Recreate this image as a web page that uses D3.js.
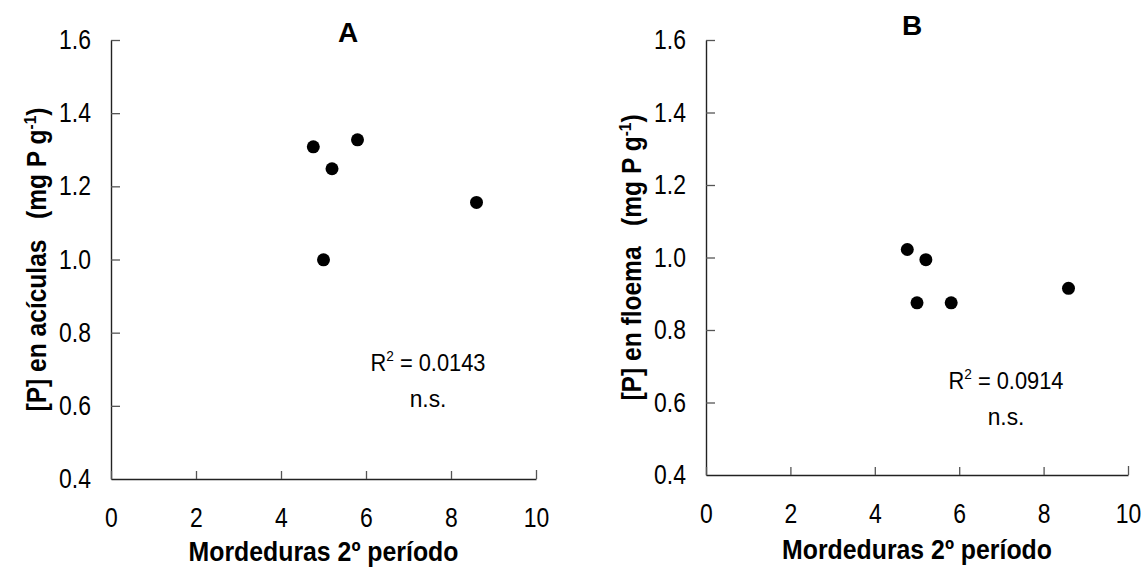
<!DOCTYPE html>
<html>
<head>
<meta charset="utf-8">
<script src="https://cdn.jsdelivr.net/npm/d3@7"></script>
<style>
  html, body { margin: 0; padding: 0; background: #fff; }
  svg { display: block; }
  text { font-family: "Liberation Sans Narrow", "Arial Narrow", "Liberation Sans", Arial, sans-serif; fill: #000; }
</style>
</head>
<body>
<svg id="chart" width="1144" height="570"></svg>
<script>
// ---- Data ----
const xTicks = [0, 2, 4, 6, 8, 10];
const yTicks = [0.4, 0.6, 0.8, 1.0, 1.2, 1.4, 1.6];

const mordedurasA = [4.76, 5.0, 5.2, 5.8, 8.6];
const fosforoAciculas = [1.308, 0.999, 1.248, 1.327, 1.156];

const mordedurasB = [4.77, 5.0, 5.21, 5.81, 8.59];
const fosforoFloema = [1.022, 0.875, 0.994, 0.875, 0.915];

const panelTitles = ["A", "B"];
const yTitles = ["[P] en acículas   (mg P g", "[P] en floema   (mg P g"];
const xTitle = "Mordeduras 2º período";
const r2Labels = ["0.0143", "0.0914"];

// ---- Layout ----
const panels = [
  { x0: 111, x1: 536, y0: 479, y1: 40, xs: mordedurasA, ys: fosforoAciculas,
    title: panelTitles[0], titleX: 348, titleY: 42, yTitle: yTitles[0], yTitleX: 46,
    r2: r2Labels[0], r2X: 428, r2Y: 371, nsY: 407, xTitleY: 561 },
  { x0: 706, x1: 1128, y0: 475, y1: 40, xs: mordedurasB, ys: fosforoFloema,
    title: panelTitles[1], titleX: 912, titleY: 35, yTitle: yTitles[1], yTitleX: 641,
    r2: r2Labels[1], r2X: 1006, r2Y: 389, nsY: 425, xTitleY: 559 }
];

// horizontal condensing around the text anchor x
function condense(sel, k) {
  sel.each(function () {
    const t = d3.select(this);
    const ax = +(t.attr("x") || 0);
    const prev = t.attr("transform") || "";
    t.attr("transform", `${prev} translate(${ax * (1 - k)},0) scale(${k},1)`);
  });
}

const svg = d3.select("#chart");

panels.forEach(p => {
  const x = d3.scaleLinear().domain([0, 10]).range([p.x0, p.x1]);
  const y = d3.scaleLinear().domain([0.4, 1.6]).range([p.y0, p.y1]);
  const g = svg.append("g");

  // y axis
  const ya = g.append("g")
    .attr("transform", `translate(${p.x0},0)`)
    .call(d3.axisLeft(y).tickValues(yTicks).tickFormat(d3.format(".1f"))
      .tickSize(-9).tickSizeOuter(0).tickPadding(20));
  // x axis
  const xa = g.append("g")
    .attr("transform", `translate(0,${p.y0})`)
    .call(d3.axisBottom(x).tickValues(xTicks).tickFormat(d3.format("d"))
      .tickSize(-8).tickSizeOuter(0).tickPadding(29));

  [ya, xa].forEach(a => {
    a.attr("font-family", null);
    a.select(".domain").attr("stroke", "#222").attr("stroke-width", 1.4);
    a.selectAll(".tick line").attr("stroke", "#555").attr("stroke-width", 1.3);
    a.selectAll(".tick text").attr("font-size", 27).attr("fill", "#000");
    condense(a.selectAll(".tick text"), 0.85);
  });
  ya.selectAll(".tick").filter(d => d === 0.4).select("line").remove();
  xa.selectAll(".tick").filter(d => d === 10).select("line").attr("y2", -9);

  // points
  g.selectAll("circle.pt")
    .data(p.xs.map((v, i) => [v, p.ys[i]]))
    .join("circle")
    .attr("class", "pt")
    .attr("cx", d => x(d[0]))
    .attr("cy", d => y(d[1]))
    .attr("r", 6.5)
    .attr("fill", "#000");

  // panel title
  g.append("text")
    .attr("x", p.titleX).attr("y", p.titleY)
    .attr("text-anchor", "middle")
    .attr("font-size", 28).attr("font-weight", "bold")
    .text(p.title);

  // x title
  const xt = g.append("text")
    .attr("x", (p.x0 + p.x1) / 2).attr("y", p.xTitleY)
    .attr("text-anchor", "middle")
    .attr("font-size", 27).attr("font-weight", "bold")
    .text(xTitle);
  condense(xt, 0.92);

  // y title
  const yt = g.append("text")
    .attr("transform", `translate(${p.yTitleX},${(p.y0 + p.y1) / 2}) rotate(-90) scale(0.91,1)`)
    .attr("text-anchor", "middle")
    .attr("font-size", 27).attr("font-weight", "bold")
    .style("white-space", "pre");
  yt.append("tspan").text(p.yTitle);
  yt.append("tspan").attr("dy", -10).attr("font-size", 17).text("-1");
  yt.append("tspan").attr("dy", 10).text(")");

  // R2 annotation
  const rt = g.append("text")
    .attr("x", p.r2X).attr("y", p.r2Y)
    .attr("text-anchor", "middle")
    .attr("font-size", 24)
    .style("white-space", "pre");
  rt.append("tspan").text("R");
  rt.append("tspan").attr("dy", -10).attr("font-size", 15).text("2");
  rt.append("tspan").attr("dy", 10).text(" = " + p.r2);
  condense(rt, 0.91);

  const ns = g.append("text")
    .attr("x", p.r2X).attr("y", p.nsY)
    .attr("text-anchor", "middle")
    .attr("font-size", 24)
    .text("n.s.");
  condense(ns, 0.95);
});
</script>
</body>
</html>
